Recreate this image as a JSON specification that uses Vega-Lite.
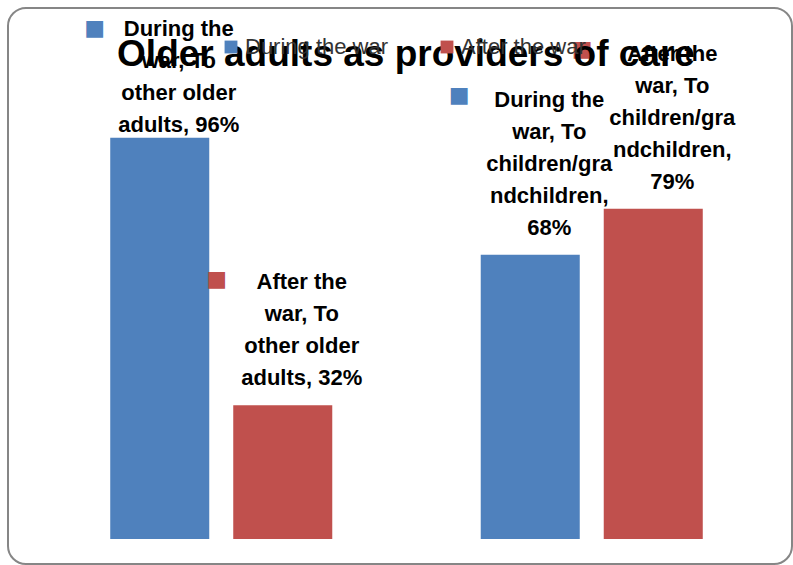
{
  "$schema": "https://vega.github.io/schema/vega-lite/v6.json",
  "width": 784,
  "height": 556,
  "autosize": {"type": "none"},
  "padding": {"left": 8, "top": 8, "right": 1, "bottom": 1},
  "background": "white",
  "config": {
    "view": {"stroke": "#868686", "strokeWidth": 2, "cornerRadius": 18},
    "font": "Liberation Sans"
  },
  "title": {
    "text": "Older adults as providers of care",
    "font": "Liberation Sans",
    "fontSize": 37,
    "fontWeight": "bold",
    "color": "#000000",
    "anchor": "middle",
    "baseline": "alphabetic",
    "offset": -60,
    "dx": 6,
    "dy": 35,
    "zindex": 0
  },
  "data": {
    "values": [
      {"group": "To other older adults", "series": "During the war", "value": 96, "label": ["During the", "war, To", "other older", "adults, 96%"]},
      {"group": "To other older adults", "series": "After the war", "value": 32, "label": ["After the", "war, To", "other older", "adults, 32%"]},
      {"group": "To children/grandchildren", "series": "During the war", "value": 68, "label": ["During the", "war, To", "children/gra", "ndchildren,", "68%"]},
      {"group": "To children/grandchildren", "series": "After the war", "value": 79, "label": ["After the", "war, To", "children/gra", "ndchildren,", "79%"]}
    ]
  },
  "encoding": {
    "x": {
      "field": "group",
      "type": "nominal",
      "sort": ["To other older adults", "To children/grandchildren"],
      "scale": {"range": [28, 769], "paddingInner": 0, "paddingOuter": 0},
      "axis": null
    },
    "xOffset": {
      "field": "series",
      "type": "nominal",
      "sort": ["During the war", "After the war"],
      "scale": {"paddingInner": 0.195, "paddingOuter": 0.6035}
    },
    "y": {
      "field": "value",
      "type": "quantitative",
      "scale": {"domain": [-5.98, 127.03], "nice": false, "zero": false},
      "axis": null
    },
    "color": {
      "field": "series",
      "type": "nominal",
      "sort": ["During the war", "After the war"],
      "scale": {"domain": ["During the war", "After the war"], "range": ["#4F81BD", "#C0504D"]},
      "legend": {
        "title": null,
        "orient": "none",
        "legendX": 212,
        "legendY": 28,
        "direction": "horizontal",
        "symbolType": "square",
        "symbolSize": 165,
        "symbolStrokeWidth": 0,
        "labelFontSize": 22,
        "labelFont": "Liberation Sans",
        "labelColor": "#333333",
        "labelOffset": 3,
        "columnPadding": 47,
        "labelLimit": 300,
        "zindex": 2
      }
    }
  },
  "layer": [
    {
      "mark": {"type": "bar", "stroke": null},
      "encoding": {"y2": {"datum": 0}}
    },
    {
      "transform": [{"filter": "datum.value == 96"}],
      "mark": {"type": "text", "baseline": "alphabetic", "align": "center", "dx": 19, "dy": -102, "fontSize": 22, "fontWeight": "bold", "lineHeight": 32, "font": "Liberation Sans"},
      "encoding": {"text": {"field": "label"}, "color": {"value": "#000000"}}
    },
    {
      "transform": [{"filter": "datum.value == 32"}],
      "mark": {"type": "text", "baseline": "alphabetic", "align": "center", "dx": 19, "dy": -116, "fontSize": 22, "fontWeight": "bold", "lineHeight": 32, "font": "Liberation Sans"},
      "encoding": {"text": {"field": "label"}, "color": {"value": "#000000"}}
    },
    {
      "transform": [{"filter": "datum.value == 68 || datum.value == 79"}],
      "mark": {"type": "text", "baseline": "alphabetic", "align": "center", "dx": 19, "dy": -148, "fontSize": 22, "fontWeight": "bold", "lineHeight": 32, "font": "Liberation Sans"},
      "encoding": {"text": {"field": "label"}, "color": {"value": "#000000"}}
    },
    {
      "transform": [{"filter": "datum.value == 96"}],
      "mark": {"type": "text", "baseline": "middle", "align": "center", "dx": -65, "dy": -110, "fontSize": 22, "font": "DejaVu Sans"},
      "encoding": {"text": {"value": "■"}}
    },
    {
      "transform": [{"filter": "datum.value == 32"}],
      "mark": {"type": "text", "baseline": "middle", "align": "center", "dx": -66, "dy": -126, "fontSize": 22, "font": "DejaVu Sans"},
      "encoding": {"text": {"value": "■"}}
    },
    {
      "transform": [{"filter": "datum.value == 68 || datum.value == 79"}],
      "mark": {"type": "text", "baseline": "middle", "align": "center", "dx": -71, "dy": -160, "fontSize": 22, "font": "DejaVu Sans"},
      "encoding": {"text": {"value": "■"}}
    }
  ]
}
